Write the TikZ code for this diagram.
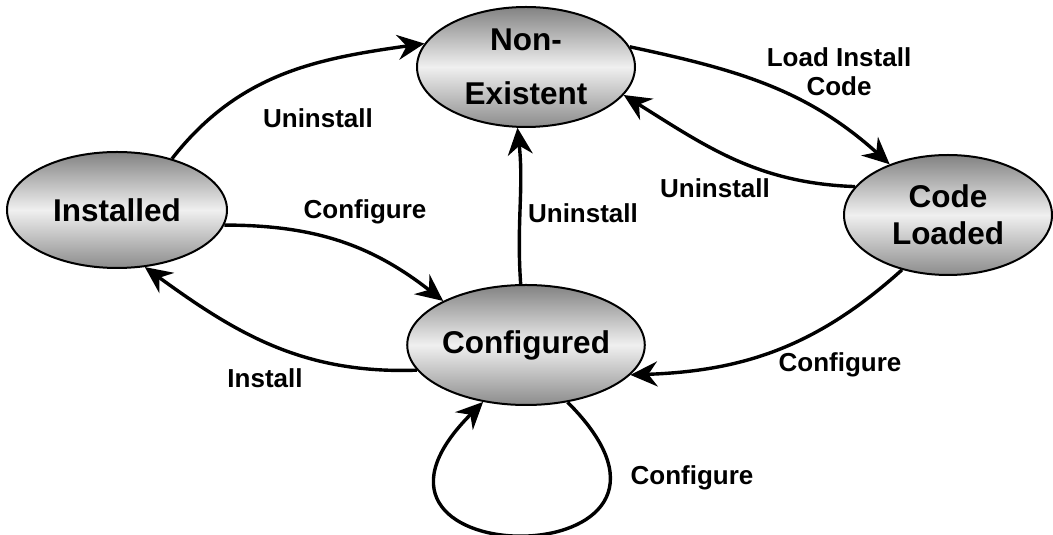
\documentclass[tikz,border=0pt]{standalone}
\usepackage{fontspec}
\setmainfont{Liberation Sans}
\usetikzlibrary{shapes.geometric,arrows.meta}

% grey band: dark at top and bottom, light through the middle
\pgfdeclareverticalshading{statefill}{100bp}{
  color(0bp)=(black!50); color(22bp)=(black!50);
  color(50bp)=(black!6);
  color(78bp)=(black!54); color(100bp)=(black!54)}

\tikzset{
  state/.style={ellipse, draw, line width=2pt, inner sep=0pt,
    minimum width=218pt, minimum height=120pt,
    shading=statefill, shading angle=0,
    align=center, font=\fontsize{31.5}{37}\selectfont\bfseries},
  trans/.style={-{Stealth[length=27pt,width=25pt,inset=9pt]}, line width=3.4pt},
  lbl/.style={align=center, font=\fontsize{26}{29}\selectfont\bfseries},
}

\begin{document}
\begin{tikzpicture}[x=1pt,y=1pt]
      \useasboundingbox (0,0) rectangle (1053,535);
      % states
      \node[state, minimum width=220pt, minimum height=116pt] (inst) at (117,325) {Installed};
      \node[state] (nonex) at (526,468) {Non-\\[17pt]Existent};
      \node[state, minimum width=208pt] (code) at (948,320) {Code\\Loaded};
      \node[state] (conf) at (526,190) {Configured};
      % transition labels
      \node[lbl] (l1) at (318,417) {Uninstall};
      \node[lbl] (l2) at (839,463) {Load Install\\Code};
      \node[lbl] (l3) at (715,347) {Uninstall};
      \node[lbl] (l4) at (583,322) {Uninstall};
      \node[lbl] (l5) at (365,323) {Configure};
      \node[lbl] (l6) at (265,157) {Install};
      \node[lbl] (l7) at (840,170) {Configure};
      \node[lbl] (l8) at (692,57) {Configure};
      % transitions
      \begin{scope}[trans]
        \draw (inst.43) to[out=52, in=188] (nonex.167);
        \draw (nonex.11) to[out=-12, in=138] (code.139);
        \draw (code.163) to[out=178, in=-32] (nonex.-16);
        \draw (conf.95) to[out=94, in=-84] (nonex.-98);
        \draw (inst.-8) to[out=0, in=142] (conf.152);
        \draw (conf.193) to[out=182, in=-36] (inst.-64);
        \draw (code.230) to[out=222, in=2] (conf.-16);
        \draw (conf.-54) to[out=-45, in=-135, distance=250] (conf.-127);
      \end{scope}
    \end{tikzpicture}
\end{document}
